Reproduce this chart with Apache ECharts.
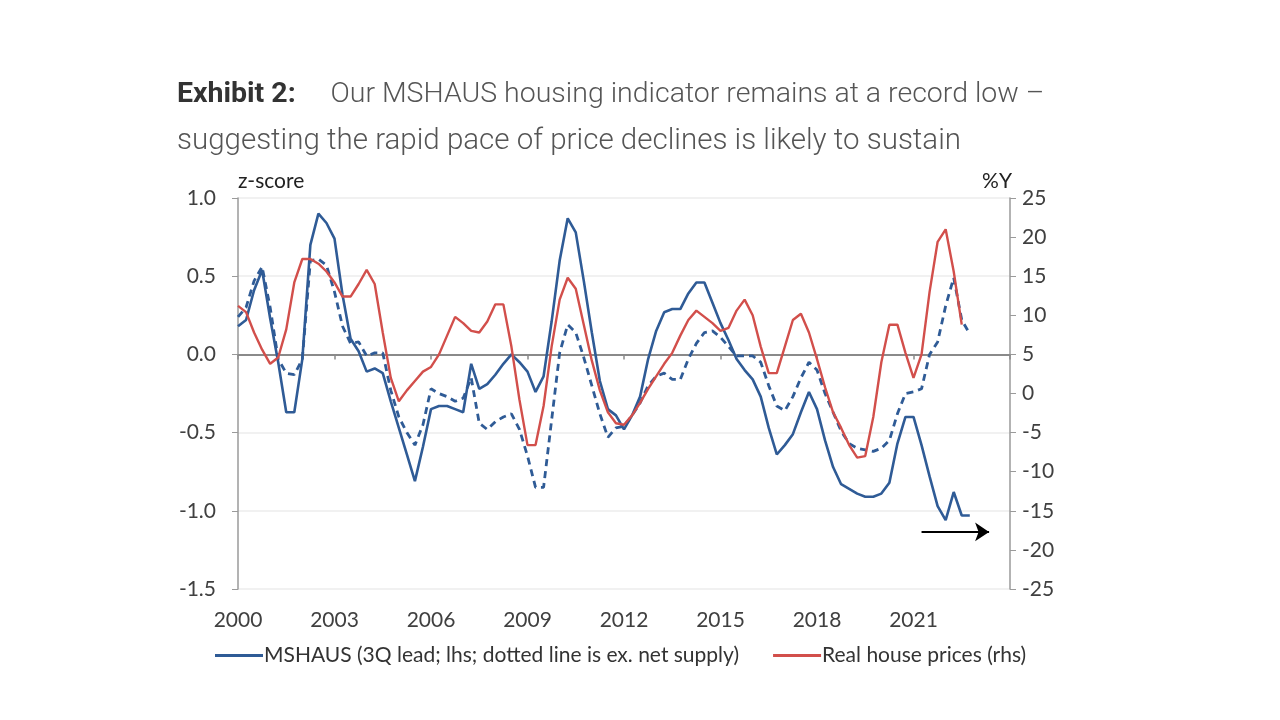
<!DOCTYPE html>
<html>
<head>
<meta charset="utf-8">
<script src="https://cdn.jsdelivr.net/npm/echarts@6/dist/echarts.min.js"></script>
<style>
html,body{margin:0;padding:0;background:#fff;}
#chart{width:1280px;height:720px;}
</style>
</head>
<body>
<div id="chart"></div>
<script>
// Quarterly data, first point = 2000 Q1
const startYear = 2000;
const xTicks = [2000, 2003, 2006, 2009, 2012, 2015, 2018, 2021];

// MSHAUS (3Q lead), z-score, lhs
const mshaus = [
  0.18, 0.22, 0.41, 0.54, 0.23, -0.05, -0.37, -0.37,
  -0.03, 0.70, 0.90, 0.84, 0.74, 0.38, 0.10, 0.02,
  -0.11, -0.09, -0.12, -0.30, -0.47, -0.64, -0.81, -0.59,
  -0.35, -0.33, -0.33, -0.35, -0.37, -0.06, -0.22, -0.19,
  -0.13, -0.06, 0.00, -0.05, -0.11, -0.24, -0.14, 0.21,
  0.60, 0.87, 0.78, 0.47, 0.14, -0.17, -0.35, -0.39,
  -0.48, -0.39, -0.27, -0.03, 0.15, 0.27, 0.29, 0.29,
  0.39, 0.46, 0.46, 0.33, 0.20, 0.09, -0.03, -0.10,
  -0.16, -0.27, -0.47, -0.64, -0.58, -0.51, -0.37, -0.24,
  -0.35, -0.55, -0.72, -0.83, -0.86, -0.89, -0.91, -0.91,
  -0.89, -0.82, -0.57, -0.40, -0.40, -0.58, -0.78, -0.97,
  -1.06, -0.88, -1.03, -1.03
];

// MSHAUS ex. net supply (dotted), z-score, lhs
const mshausExSupply = [
  0.24, 0.30, 0.47, 0.56, 0.30, -0.03, -0.12, -0.13,
  -0.03, 0.60, 0.61, 0.57, 0.40, 0.18, 0.07, 0.08,
  -0.01, 0.01, 0.01, -0.23, -0.40, -0.50, -0.58, -0.45,
  -0.22, -0.25, -0.27, -0.30, -0.28, -0.15, -0.44, -0.48,
  -0.43, -0.40, -0.38, -0.48, -0.65, -0.85, -0.85, -0.42,
  0.01, 0.19, 0.14, -0.02, -0.20, -0.38, -0.53, -0.47,
  -0.46, -0.39, -0.31, -0.20, -0.14, -0.12, -0.16, -0.16,
  -0.03, 0.07, 0.14, 0.15, 0.11, 0.05, -0.01, -0.01,
  -0.01, -0.05, -0.20, -0.33, -0.36, -0.27, -0.15, -0.05,
  -0.10, -0.25, -0.37, -0.49, -0.57, -0.60, -0.61, -0.62,
  -0.60, -0.55, -0.38, -0.25, -0.24, -0.22, 0.00, 0.08,
  0.31, 0.49, 0.22, 0.13
];

// Real house prices, %Y, rhs
const housePrices = [
  11.2, 10.4, 7.8, 5.6, 3.8, 4.6, 8.2, 14.2,
  17.2, 17.2, 16.6, 15.6, 14.2, 12.4, 12.4, 14.0,
  15.8, 14.0, 7.8, 2.0, -1.0, 0.4, 1.6, 2.8,
  3.4, 5.0, 7.4, 9.8, 9.0, 8.0, 7.8, 9.2,
  11.4, 11.4, 6.0, -0.8, -6.6, -6.6, -1.6, 6.0,
  12.0, 14.8, 13.4, 8.8, 4.2, 0.4, -2.4, -3.8,
  -4.0, -2.8, -1.2, 0.6, 2.2, 3.8, 5.2, 7.4,
  9.4, 10.6, 9.8, 9.0, 8.0, 8.4, 10.6, 12.0,
  10.0, 6.0, 2.6, 2.6, 6.0, 9.4, 10.2, 7.8,
  4.4, 0.8, -2.4, -4.4, -6.6, -8.2, -8.0, -3.0,
  4.0, 8.8, 8.8, 5.2, 2.0, 5.0, 13.0, 19.4,
  21.0, 15.6, 8.8
];

const leftTicks = [-1.5, -1.0, -0.5, 0.0, 0.5, 1.0];
const rightTicks = [-25, -20, -15, -10, -5, 0, 5, 10, 15, 20, 25];

// arrow annotation (data coordinates)
const arrowFrom = [2021.25, -1.135];
const arrowTo = [2023.35, -1.135];

const toPairs = arr => arr.map((v, i) => [startYear + i / 4, v]);

const BLUE = '#2f5b96';
const RED = '#d24f4b';
const FONT = 'Lato, "Open Sans", sans-serif';
const FS = 21;

const chart = echarts.init(document.getElementById('chart'));
chart.setOption({
  animation: false,
  backgroundColor: '#ffffff',
  title: [
    {
      left: 177, top: 80, padding: 0,
      text: '{b|Exhibit 2:}{n|     Our MSHAUS housing indicator remains at a record low –}',
      textStyle: {
        rich: {
          b: {fontFamily: 'Roboto', fontSize: 28.5, fontWeight: 'bold', color: '#333'},
          n: {fontFamily: 'Roboto', fontSize: 28.5, fontWeight: 300, color: '#555'}
        }
      }
    },
    {
      left: 177, top: 127, padding: 0,
      text: 'suggesting the rapid pace of price declines is likely to sustain',
      textStyle: {fontFamily: 'Roboto', fontSize: 29.5, fontWeight: 300, color: '#555'}
    }
  ],
  grid: {left: 238, right: 270, top: 198, bottom: 131, containLabel: false},
  legend: {
    bottom: 49, left: 210,
    itemWidth: 48, itemHeight: 3, itemGap: 34,
    icon: 'rect',
    data: ['MSHAUS (3Q lead; lhs; dotted line is ex. net supply)', 'Real house prices (rhs)'],
    textStyle: {fontFamily: FONT, fontSize: 21, color: '#333', padding: [0, 0, 0, -4]}
  },
  xAxis: [
    {
      type: 'value', min: 2000, max: 2024, interval: 3,
      position: 'bottom',
      axisLine: {show: false, onZero: false},
      axisTick: {show: false},
      splitLine: {show: false},
      axisLabel: {
        fontFamily: FONT, fontSize: FS, color: '#404040', margin: 21,
        formatter: v => (xTicks.indexOf(v) >= 0 ? String(v) : '')
      }
    },
    {
      type: 'value', min: 2000, max: 2024, interval: 3,
      position: 'bottom',
      axisLine: {show: true, onZero: true, onZeroAxisIndex: 0, lineStyle: {color: '#8a8a8a', width: 2}},
      axisTick: {show: true, inside: false, length: 5, lineStyle: {color: '#8a8a8a', width: 1.5}},
      axisLabel: {show: false},
      splitLine: {show: false}
    }
  ],
  yAxis: [
    {
      type: 'value', min: -1.5, max: 1.0, interval: 0.5,
      position: 'left',
      name: 'z-score', nameLocation: 'end', nameGap: 6,
      nameTextStyle: {fontFamily: FONT, fontSize: FS, color: '#222', align: 'left', padding: [0, 0, 0, 0]},
      axisLine: {show: true, lineStyle: {color: '#9a9a9a', width: 1.5}},
      axisTick: {show: true, length: 6, lineStyle: {color: '#9a9a9a'}},
      axisLabel: {fontFamily: FONT, fontSize: FS, color: '#404040', margin: 22,
        formatter: v => v.toFixed(1)},
      splitLine: {show: true, lineStyle: {color: '#ececec', width: 1.5}}
    },
    {
      type: 'value', min: -25, max: 25, interval: 5,
      position: 'right',
      name: '%Y', nameLocation: 'end', nameGap: 6,
      nameTextStyle: {fontFamily: FONT, fontSize: FS, color: '#222', align: 'right', padding: [0, -2, 0, 0]},
      axisLine: {show: true, lineStyle: {color: '#9a9a9a', width: 1.5}},
      axisTick: {show: true, length: 6, lineStyle: {color: '#9a9a9a'}},
      axisLabel: {fontFamily: FONT, fontSize: FS, color: '#404040', margin: 12},
      splitLine: {show: false}
    }
  ],
  series: [
    {
      name: 'MSHAUS (3Q lead; lhs; dotted line is ex. net supply)',
      type: 'line', xAxisIndex: 0, yAxisIndex: 0,
      data: toPairs(mshaus),
      showSymbol: false, symbol: 'none',
      lineStyle: {color: BLUE, width: 2.6},
      itemStyle: {color: BLUE},
      markLine: {
        silent: true,
        symbol: ['none', 'arrow'], symbolSize: 14,
        label: {show: false},
        lineStyle: {color: '#000', width: 2, type: 'solid'},
        itemStyle: {color: '#000'},
        data: [[{coord: arrowFrom}, {coord: arrowTo}]]
      }
    },
    {
      name: 'MSHAUS ex. net supply',
      type: 'line', xAxisIndex: 0, yAxisIndex: 0,
      data: toPairs(mshausExSupply),
      showSymbol: false, symbol: 'none',
      lineStyle: {color: BLUE, width: 2.8, type: [7, 5]},
      itemStyle: {color: BLUE}
    },
    {
      name: 'Real house prices (rhs)',
      type: 'line', xAxisIndex: 0, yAxisIndex: 1,
      data: toPairs(housePrices),
      showSymbol: false, symbol: 'none',
      lineStyle: {color: RED, width: 2.4},
      itemStyle: {color: RED}
    }
  ]
});
</script>
</body>
</html>
